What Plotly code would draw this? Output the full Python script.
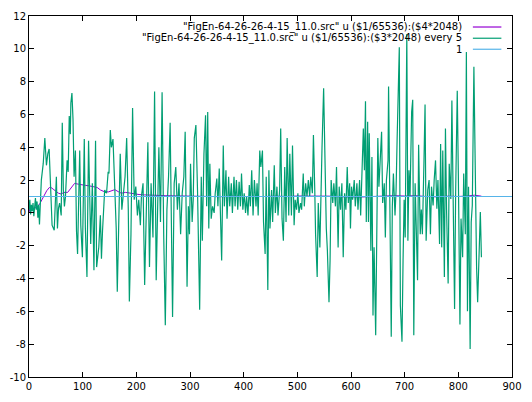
import plotly.graph_objects as go

# ---- data ----
green_x = [0, 1.5, 3, 4.5, 6, 7.5, 9, 10.5, 12, 13.5, 15, 16.5, 18, 19.5, 21, 23, 26.5, 29.5, 32.5, 35,
           37.5, 40, 43, 47, 49, 51, 53, 55, 57, 60, 62, 64, 66, 68, 71, 73, 75, 77, 78, 80,
           82, 84, 86.5, 88.5, 90.5, 92.5, 94.5, 96.5, 99.5, 103, 105, 108, 111, 115, 118, 121, 124, 126, 130, 133,
           135, 137, 141, 144.5, 147.5, 149, 151.5, 153.5, 156.5, 159.5, 162.5, 164.5, 167, 170, 173, 176, 179, 182, 185, 187,
           190, 193, 196, 199, 202, 204.5, 207.5, 209.5, 212.5, 215.5, 218.5, 221.5, 224.5, 227.5, 231, 234, 237, 240, 242, 245,
           248, 251, 254, 257, 260, 263, 265.5, 267.5, 270.5, 273.5, 276.5, 279.5, 282.5, 285.5, 288.5, 291, 294.5, 297, 299, 301,
           304, 306, 308, 311, 314, 316, 318, 321, 323, 326, 329, 331, 333, 335, 337, 339.5, 342, 345, 347, 350,
           352, 354.5, 357, 359, 362, 364, 367, 369, 372, 374, 377, 379, 382, 384, 386.5, 389, 391.5, 394, 396, 398.5,
           401, 403.5, 405.5, 408, 410.5, 412.5, 415, 417.5, 420, 423, 425, 427, 430, 432, 435, 437, 440, 442, 445, 447,
           449, 452, 454, 457, 459, 462, 464, 467, 469, 471.5, 474, 476.5, 479, 481, 484, 486, 489, 491, 494, 496,
           498.5, 501, 503, 506, 508, 511, 513, 515.5, 518, 520.5, 523, 525, 528, 530, 532.5, 534, 537, 539, 542, 544,
           546, 549, 551, 554, 556, 559, 561, 563, 566, 568, 571, 573, 576, 578, 580.5, 583, 585.5, 588, 590.5, 593,
           595, 597.5, 599, 601, 603, 606, 608, 611, 613, 616, 618, 620, 623, 625, 627, 628.5, 631, 632.5, 634, 637,
           639, 641, 643, 646, 648, 650, 652, 655, 657, 659, 662, 664, 666, 669, 670, 672, 675, 677, 679, 682,
           684, 686, 689, 690, 692, 695, 697, 699, 701, 704, 706, 708, 710, 713, 715, 717, 719.5, 722, 724, 726,
           729, 731, 733, 736, 738, 740, 743, 745.5, 748, 750, 753, 755, 757.5, 760, 762, 765, 767, 769, 771, 774,
           776, 778, 781, 783, 786, 788, 790, 793, 795, 798, 800, 803, 805, 808, 810, 813, 815, 817, 819, 822,
           824, 826, 829, 831, 834, 836, 839, 841, 843]
green_y = [0.2, 0.8, -0.1, 0.5, 0.1, 0.6, -0.2, 0.4, 0.9, 0.2, 0.7, -0.3, 0.5, -0.7, 1.0, 2.0, 3.0, 4.56, 2.9, 3.6,
           3.9, 2.2, -0.75, -1.05, 0.5, 2.2, -0.95, 0.3, 0.6, -0.15, 5.5, 1.4, 0.4, 1.0, 3.2, 2.5, 5.9, 4.8, 6.7, 7.3,
           5.7, 2.2, 3.8, -1.1, -2.5, 1.0, 3.8, -0.75, -2.7, 4.5, -0.9, -3.9, 4.4, -1.9, 1.8, -3.5, 4.4, -3.3, -2.1, -0.15,
           -2.8, -1.1, 1.4, 1.2, 2.5, 2.4, 5.05, 4.0, 4.5, 1.8, -0.95, -4.8, -1.5, 3.6, 0.2, 1.4, 2.2, 4.56, 0.2, -5.4,
           -1.3, 6.4, 0.8, 1.6, -0.15, 0.8, -0.75, 1.0, 1.8, -4.4, -0.55, 4.3, -3.3, 1.8, -1.5, 7.4, -4.1, 1.0, 4.0, -0.55,
           7.35, -1.3, -6.85, 0.2, 2.2, 5.5, -0.15, -6.35, 1.8, 2.8, 0.2, 1.8, -1.3, 1.2, 2.2, 4.95, -4.5, 0.4, -1.3, 3.0,
           -0.55, 0.8, 4.56, 5.35, 1.4, -3.7, -5.9, 2.2, -1.7, 3.6, 5.95, 0.4, 6.15, -0.95, 3.0, -0.35, 0.4, 0.0, 1.2, 2.1,
           0.4, 2.7, -1.7, -2.9, 4.1, 0.4, 2.6, -0.35, 2.2, 0.4, 1.8, 0.0, 2.2, 0.4, 2.0, 0.2, 1.9, 0.4, 2.4, 0.2,
           1.2, 0.0, 1.0, -0.15, 1.7, 0.4, 2.6, -0.15, 2.0, 0.4, 1.8, -0.15, 3.8, 2.8, 3.8, -0.55, -2.5, 2.2, -4.7, 2.6,
           -0.95, 1.4, -0.55, 2.9, 0.0, 1.6, -0.15, 1.4, 5.15, -0.35, -1.7, 2.8, -0.55, 4.56, -0.15, 3.6, -0.15, 4.1, -0.75, 0.8,
           0.2, 1.2, 0.0, 0.6, 0.2, 2.4, 0.4, 1.8, 1.0, 2.0, 1.0, 2.2, 1.2, 4.75, 1.4, -1.3, -3.9, 0.6, -2.1, 2.0,
           4.0, 7.6, 3.6, -0.95, -2.3, -5.45, -2.9, 2.0, 0.6, 1.8, 0.4, 2.8, -2.1, 1.6, 0.2, 1.8, -2.7, 1.2, 0.2, 2.8,
           0.6, 1.8, -0.95, 1.6, 0.8, 2.0, 0.4, 1.8, 0.2, 2.0, -0.15, 1.8, 5.15, 2.6, 6.8, -0.55, 5.55, -0.55, 4.85, -2.3,
           3.4, -6.25, -2.1, -7.45, 0.2, 4.56, 1.6, 4.15, 4.95, 0.6, 1.8, -1.5, 2.0, 3.2, 7.7, 1.8, -7.55, 0.4, 2.4, -0.15,
           1.4, 4.56, 8.1, 10.1, -5.65, -7.85, -2.9, 0.8, -1.5, 10.9, -1.7, 2.6, 1.0, 6.15, 6.9, -7.45, 1.8, -1.05, -4.1, 4.15,
           -1.3, 0.2, -1.3, 3.2, 6.6, -1.7, 1.4, 2.0, -1.3, 1.6, 0.45, 2.0, 3.2, 0.25, 2.0, -1.9, 4.2, -2.1, 3.8, -3.9,
           5.15, 0.25, -4.3, 3.0, 0.85, 6.85, 0.05, -5.85, 1.25, 7.45, 2.4, -6.8, -0.35, -2.7, 2.4, -1.3, 9.8, -6.0, 1.6, -8.3,
           -0.55, 0.45, 8.9, 2.6, -3.3, -5.45, -2.1, 0.05, -2.7, 2.0, -0.35]

purple_x = [0, 2, 6, 10, 15, 20, 24, 28, 33, 38, 41, 45, 50, 55, 60, 65, 72, 78, 85, 92,
            98, 105, 112, 120, 127, 133, 140, 148, 155, 160, 166, 172, 180, 188, 195, 205, 215, 225, 240, 255,
            270, 290, 300, 320, 340, 360, 380, 400, 420, 440, 460, 480, 500, 520, 540, 560, 580, 600, 620, 640,
            660, 680, 700, 720, 740, 760, 780, 800, 820, 830, 843]
purple_y = [0.0, 0.35, 0.25, 0.3, 0.35, 0.55, 0.8, 1.1, 1.35, 1.55, 1.55, 1.45, 1.3, 1.2, 1.15, 1.25, 1.25, 1.5, 1.8, 1.75,
            1.7, 1.68, 1.65, 1.6, 1.55, 1.4, 1.3, 1.28, 1.35, 1.42, 1.3, 1.2, 1.25, 1.2, 1.15, 1.12, 1.1, 1.08, 1.06, 1.05,
            1.04, 1.02, 1.0, 0.98, 1.0, 0.99, 1.02, 1.0, 0.98, 1.0, 1.02, 1.0, 1.03, 1.02, 1.05, 1.02, 0.98, 0.97, 0.97, 1.0,
            1.03, 1.05, 1.03, 1.05, 1.0, 0.98, 1.02, 1.0, 1.04, 1.08, 1.02]

const_x = [0, 900]
const_y = [1, 1]

x_ticks = [0, 100, 200, 300, 400, 500, 600, 700, 800, 900]
y_ticks = [-10, -8, -6, -4, -2, 0, 2, 4, 6, 8, 10, 12]

labels = ['"FigEn-64-26-26-4-15_11.0.src" u ($1/65536):($4*2048)',
          '"FigEn-64-26-26-4-15_11.0.src" u ($1/65536):($3*2048) every 5',
          '1']
colors = ["#9400d3", "#009e73", "#56b4e9"]

FONT = dict(family="DejaVu Sans", size=10, color="black")

fig = go.Figure()
fig.add_trace(go.Scatter(x=purple_x, y=purple_y, mode="lines",
                         line=dict(color=colors[0], width=1), name=labels[0]))
fig.add_trace(go.Scatter(x=green_x, y=green_y, mode="lines",
                         line=dict(color=colors[1], width=1.2), name=labels[1]))
fig.add_trace(go.Scatter(x=const_x, y=const_y, mode="lines",
                         line=dict(color=colors[2], width=1.2), name=labels[2]))

# gnuplot-style key: right-aligned text with the line sample to its right
rows = [0.9695, 0.9384, 0.9079]
for lab, col, yy in zip(labels, colors, rows):
    fig.add_annotation(x=0.9, y=yy, xref="paper", yref="paper", text=lab,
                       showarrow=False, xanchor="right", yanchor="middle",
                       font=FONT)
    fig.add_shape(type="line", xref="paper", yref="paper",
                  x0=0.919, x1=0.978, y0=yy, y1=yy,
                  line=dict(color=col, width=1.2))

axis_common = dict(showline=True, linecolor="black", linewidth=1, mirror="allticks",
                   ticks="inside", ticklen=5, tickcolor="black", tickwidth=1,
                   showgrid=False, zeroline=False, tickfont=FONT)

fig.update_layout(
    width=532, height=402,
    margin=dict(l=26, r=12, t=10, b=18),
    paper_bgcolor="white", plot_bgcolor="white",
    showlegend=False,
    xaxis=dict(range=[0, 900], tickvals=x_ticks, ticktext=[str(v) for v in x_ticks], **axis_common),
    yaxis=dict(range=[-10, 12], tickvals=y_ticks, ticktext=[str(v) for v in y_ticks], **axis_common),
)

fig.write_html("out.html")
